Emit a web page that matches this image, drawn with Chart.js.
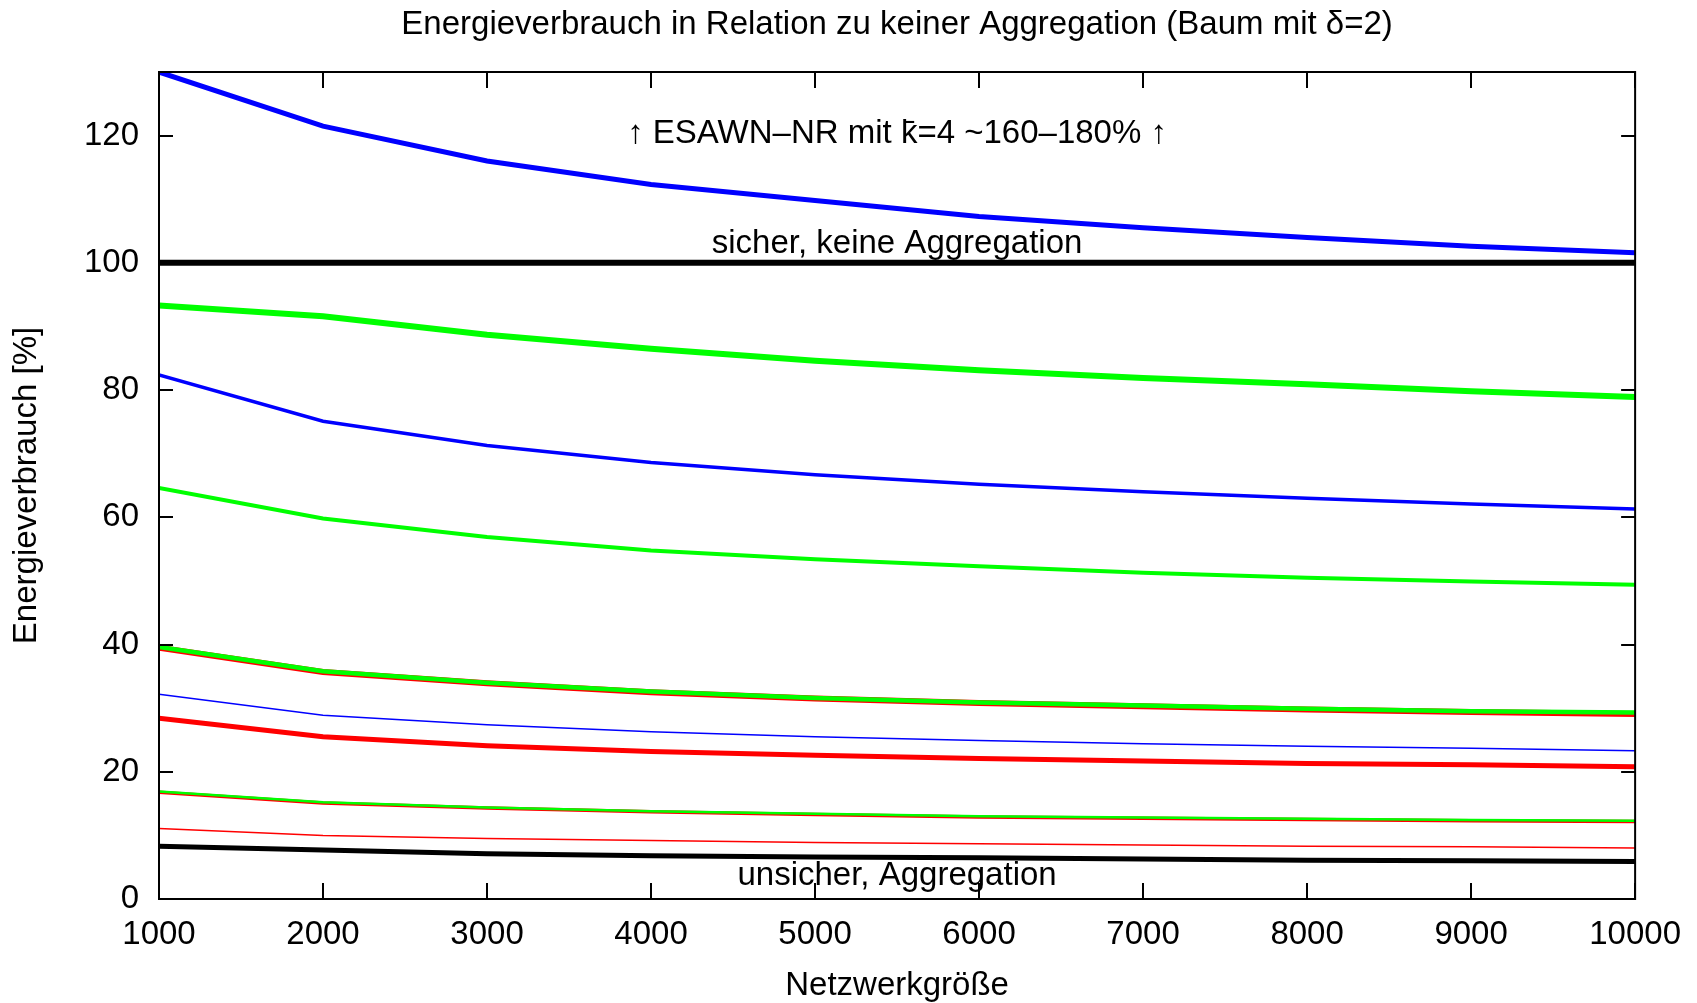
<!DOCTYPE html>
<html>
<head>
<meta charset="utf-8">
<script src="https://cdn.jsdelivr.net/npm/chart.js@4/dist/chart.umd.min.js"></script>
<style>
html, body { margin: 0; padding: 0; background: #fff; }
</style>
</head>
<body>
<canvas id="chart" width="1697" height="1003"></canvas>
<script>
// Netzwerkgröße (x) and tick values
var netSizes = [1000, 2000, 3000, 4000, 5000, 6000, 7000, 8000, 9000, 10000];
var xTickValues = [1000, 2000, 3000, 4000, 5000, 6000, 7000, 8000, 9000, 10000];
var yTickValues = [0, 20, 40, 60, 80, 100, 120];

// Energieverbrauch [%] per curve
var blueTop    = [130.0, 121.5, 116.0, 112.3, 109.8, 107.3, 105.5, 104.0, 102.6, 101.6];
var blackSafe  = [100, 100, 100, 100, 100, 100, 100, 100, 100, 100];
var greenTop   = [93.3, 91.6, 88.7, 86.5, 84.6, 83.1, 81.9, 80.9, 79.8, 78.9];
var blueMid    = [82.4, 75.1, 71.3, 68.6, 66.7, 65.2, 64.0, 63.0, 62.1, 61.3];
var greenMid   = [64.6, 59.8, 56.9, 54.8, 53.4, 52.3, 51.3, 50.5, 49.9, 49.4];
var green40    = [39.6, 35.8, 34.0, 32.6, 31.6, 30.9, 30.4, 29.9, 29.5, 29.3];
var red40      = [39.5, 35.7, 33.9, 32.5, 31.5, 30.8, 30.3, 29.8, 29.4, 29.1];
var blueThin   = [32.2, 28.9, 27.4, 26.3, 25.5, 24.9, 24.4, 24.0, 23.7, 23.3];
var redThick   = [28.4, 25.5, 24.1, 23.2, 22.6, 22.1, 21.7, 21.3, 21.1, 20.8];
var green17    = [16.9, 15.2, 14.4, 13.8, 13.4, 13.0, 12.8, 12.6, 12.4, 12.3];
var red17      = [16.8, 15.1, 14.3, 13.7, 13.3, 12.9, 12.7, 12.5, 12.3, 12.2];
var redThin    = [11.1, 10.0, 9.5, 9.2, 8.9, 8.7, 8.5, 8.3, 8.2, 8.0];
var blackUnsafe = [8.3, 7.7, 7.1, 6.8, 6.6, 6.5, 6.3, 6.1, 6.0, 5.9];

var FONT = 'Liberation Sans, Arial, sans-serif';
var FSIZE = 33;

function toPoints(values) {
    return netSizes.map(function (x, i) { return {x: x, y: values[i]}; });
}

function line(values, color, width, order) {
    return {
        data: toPoints(values),
        borderColor: color,
        backgroundColor: color,
        borderWidth: width,
        pointRadius: 0,
        tension: 0,
        fill: false,
        order: order
    };
}

var notes = [
    {text: '\u2191 ESAWN\u2013NR mit k\u0304=4 ~160\u2013180% \u2191', x: 5500, y: 120.3},
    {text: 'sicher, keine Aggregation', x: 5500, y: 102.9},
    {text: 'unsicher, Aggregation', x: 5500, y: 3.7}
];

var ctx = document.getElementById('chart');
var chart = new Chart(ctx, {
    type: 'line',
    data: {
        datasets: [
            line(blueTop, '#0000ff', 5, 1),
            line(blackSafe, '#000000', 6, 1),
            line(greenTop, '#00ff00', 6, 1),
            line(blueMid, '#0000ff', 3.5, 1),
            line(greenMid, '#00ff00', 4, 1),
            line(red40, '#ff0000', 6, 2),
            line(green40, '#00ff00', 4.5, 0),
            line(blueThin, '#0000ff', 1.5, 1),
            line(redThick, '#ff0000', 5, 1),
            line(red17, '#ff0000', 3.5, 2),
            line(green17, '#00ff00', 2.5, 0),
            line(redThin, '#ff0000', 1.5, 1),
            line(blackUnsafe, '#000000', 5, 1)
        ]
    },
    options: {
        responsive: false,
        animation: false,
        layout: {padding: {top: 0, right: 61, bottom: 0, left: 0}},
        plugins: {
            legend: {display: false},
            tooltip: {enabled: false},
            title: {
                display: true,
                fullSize: false,
                text: 'Energieverbrauch in Relation zu keiner Aggregation (Baum mit \u03b4=2)',
                color: '#000',
                font: {family: FONT, size: FSIZE, weight: 'normal'},
                padding: {top: 5.2, bottom: 27.2}
            }
        },
        scales: {
            x: {
                type: 'linear',
                min: 1000,
                max: 10000,
                afterBuildTicks: function (s) { s.ticks = xTickValues.map(function (v) { return {value: v}; }); },
                afterFit: function (s) { s.height = 104; },
                grid: {display: false, drawTicks: false},
                border: {display: false},
                ticks: {
                    color: '#000', padding: 16, maxRotation: 0, autoSkip: false,
                    font: {family: FONT, size: FSIZE},
                    callback: function (v) { return String(v); }
                },
                title: {
                    display: true, text: 'Netzwerkgr\u00f6\u00dfe', color: '#000',
                    font: {family: FONT, size: FSIZE}, padding: {top: 0, bottom: -3}
                }
            },
            y: {
                type: 'linear',
                min: 0,
                max: 130,
                afterBuildTicks: function (s) { s.ticks = yTickValues.map(function (v) { return {value: v}; }); },
                afterFit: function (s) { s.width = 159; },
                grid: {display: false, drawTicks: false},
                border: {display: false},
                ticks: {
                    color: '#000', padding: 20,
                    font: {family: FONT, size: FSIZE},
                    callback: function (v) { return String(v); }
                },
                title: {
                    display: true, text: 'Energieverbrauch [%]', color: '#000',
                    font: {family: FONT, size: FSIZE}, padding: {top: 7, bottom: 0}
                }
            }
        }
    },
    plugins: [{
        id: 'gnuplot-frame',
        afterDatasetsDraw: function (chart) {
            var c = chart.ctx, a = chart.chartArea;
            var xs = chart.scales.x, ys = chart.scales.y;
            c.save();
            // notes inside the plot
            c.fillStyle = '#000';
            c.textAlign = 'center';
            c.textBaseline = 'middle';
            c.font = FSIZE + 'px ' + FONT;
            notes.forEach(function (n) {
                c.fillText(n.text, xs.getPixelForValue(n.x), ys.getPixelForValue(n.y));
            });
            // border and inward ticks on all sides
            c.strokeStyle = '#000';
            c.lineWidth = 2;
            c.strokeRect(a.left, a.top, a.right - a.left, a.bottom - a.top);
            c.beginPath();
            xTickValues.forEach(function (v) {
                var px = Math.round(xs.getPixelForValue(v));
                c.moveTo(px, a.bottom); c.lineTo(px, a.bottom - 16);
                c.moveTo(px, a.top); c.lineTo(px, a.top + 16);
            });
            yTickValues.forEach(function (v) {
                var py = Math.round(ys.getPixelForValue(v));
                c.moveTo(a.left, py); c.lineTo(a.left + 14, py);
                c.moveTo(a.right, py); c.lineTo(a.right - 14, py);
            });
            c.stroke();
            c.restore();
        }
    }]
});
</script>
</body>
</html>
